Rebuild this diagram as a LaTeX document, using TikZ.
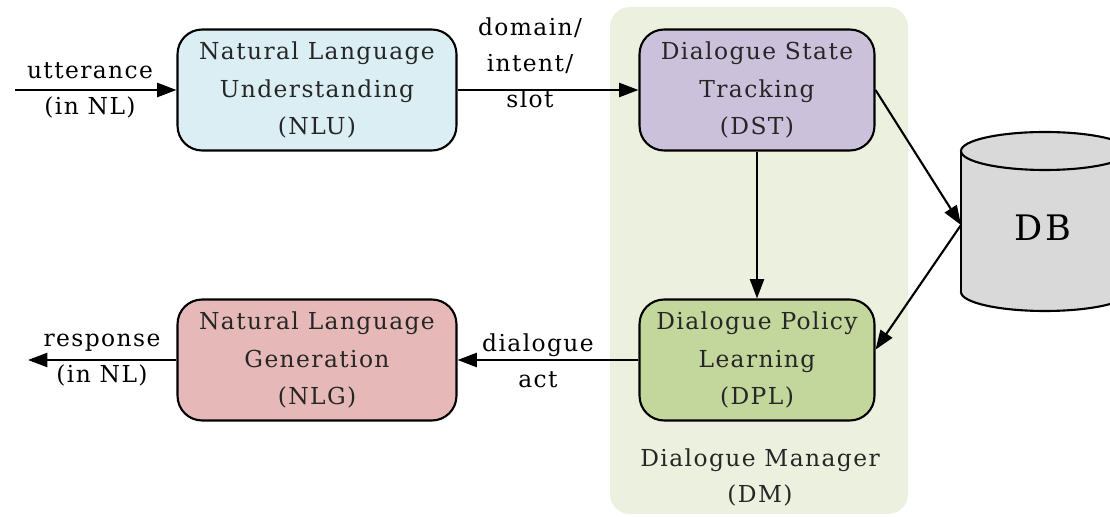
\documentclass[tikz,border=0pt]{standalone}
\usepackage{fontspec}
\setmainfont{DejaVu Serif}[LetterSpace=6]
\usetikzlibrary{arrows.meta, positioning}
\definecolor{nlublue}{HTML}{DAEEF3}
\definecolor{dstpurple}{HTML}{CCC1DA}
\definecolor{nlgred}{HTML}{E6B9B8}
\definecolor{dplgreen}{HTML}{C3D69B}
\definecolor{dmgreen}{HTML}{EBF1DE}
\definecolor{dbgray}{HTML}{D9D9D9}
\definecolor{boxtext}{HTML}{262626}

\tikzset{
  module/.style={draw=black, line width=1.2pt, rounded corners=14pt, minimum height=2.42cm, align=center, text=boxtext, font=\fontsize{13.3}{21.5}\selectfont},
  flow/.style={-{Triangle[length=11pt, width=8pt]}, line width=1.2pt},
  lbl/.style={align=center, font=\fontsize{13.3}{20.5}\selectfont}
}

\begin{document}
\begin{tikzpicture}[x=0.02cm, y=0.02cm]
        \useasboundingbox (0,0) rectangle (1110,517);

        % Dialogue Manager
        \fill[dmgreen, rounded corners=0.4cm] (610,3) rectangle (908,510);
        \node[lbl, text=boxtext] (dm) at (760,40) {Dialogue Manager\\(DM)};

        % Modules
        \node[module, fill=nlublue, minimum width=5.58cm] (nlu) at (317,427) {Natural Language\\Understanding\\(NLU)};
        \node[module, fill=dstpurple, minimum width=4.7cm] (dst) at (757,427) {Dialogue State\\Tracking\\(DST)};
        \node[module, fill=nlgred, minimum width=5.58cm] (nlg) at (317,157) {Natural Language\\Generation\\(NLG)};
        \node[module, fill=dplgreen, minimum width=4.7cm] (dpl) at (757,157) {Dialogue Policy\\Learning\\(DPL)};

        % Database
        \filldraw[fill=dbgray, line width=1.2pt] (1045,225) ellipse (84 and 19);
        \fill[dbgray] (961,225) rectangle (1129,366);
        \draw[line width=1.2pt] (961,225) -- (961,366) (1129,225) -- (1129,366);
        \filldraw[fill=dbgray, line width=1.2pt] (1045,366) ellipse (84 and 19);
        \node[font=\fontsize{20}{24}\selectfont] (db) at (1043,289) {DB};
        \coordinate (dbw) at (961,292);

        % Ends
        \coordinate (uin) at (15,427);
        \coordinate (rout) at (28,157);

        % Arrows
        \draw[flow] (uin) -- (nlu);
        \draw[flow] (nlu) -- (dst);
        \draw[flow] (dst) -- (dpl);
        \draw[flow] (dst.east) -- (dbw);
        \draw[flow] (dbw) -- (dpl.5);
        \draw[flow] (dpl) -- (nlg);
        \draw[flow] (nlg) -- (rout);

        % Labels
        \node[lbl] (utt) at (90,427) {utterance\\(in NL)};
        \node[lbl] (dis) at (530,454) {domain/\\intent/\\slot};
        \node[lbl] (act) at (538,156) {dialogue\\act};
        \node[lbl] (resp) at (102,157) {response\\(in NL)};
    \end{tikzpicture}
\end{document}
